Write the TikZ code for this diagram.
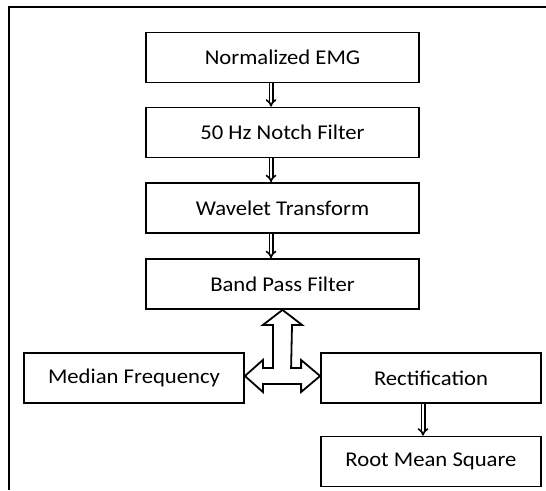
\documentclass[tikz,border=0pt]{standalone}
\usepackage{fontspec}
\setmainfont{Carlito}[FakeStretch=1.08]
\usetikzlibrary{arrows.meta,calc}
\begin{document}
\begin{tikzpicture}[x=1pt,y=-1pt,
  box/.style={draw=black, line width=1.8pt, minimum height=50pt, inner sep=0pt,
    font=\fontsize{21}{24}\selectfont},
  wide/.style={box, minimum width=273pt},
  narrow/.style={box, minimum width=220pt},
  dbl/.style={draw=black, double, double distance=1.8pt, line width=1.6pt, -{Implies}},
  blockarrow/.style={draw=black, line width=1.8pt, fill=white, line join=miter}]
\useasboundingbox (0,0) rectangle (546,490);
\draw[line width=1.8pt] (546,7) -- (9,7) -- (9,490);
\node[wide] (n1) at (282.5,57.5) {Normalized EMG};
\node[wide] (n2) at (282.5,132.5) {50 Hz Notch Filter};
\node[wide] (n3) at (282.5,208) {Wavelet Transform};
\node[wide] (n4) at (282.5,284) {Band Pass Filter};
\node[narrow] (med) at (134,378) {Median Frequency};
\node[narrow] (rect) at (431,378) {Rectification};
\node[narrow] (rms) at (431,461.5) {Root Mean Square};
\draw[dbl] ([xshift=-11.5pt]n1.south) -- ([xshift=-11.5pt]n2.north);
\draw[dbl] ([xshift=-11.5pt]n2.south) -- ([xshift=-11.5pt]n3.north);
\draw[dbl] ([xshift=-11.5pt]n3.south) -- ([xshift=-11.5pt]n4.north);
\draw[dbl] ([xshift=-8pt]rect.south) -- ([xshift=-8pt]rms.north);
% three-way block arrow
\coordinate (T) at (n4.south);
\coordinate (L) at ($(med.east)+(0,-2)$);
\coordinate (R) at ($(rect.west)+(0,-2)$);
\draw[blockarrow] (T)
  -- ($(T)+(19.5,15)$) -- ($(T)+(9.5,15)$)
  -- ($(R)+(-29,-8)$) -- ($(R)+(-19,-8)$) -- ($(R)+(-19,-16)$)
  -- (R)
  -- ($(R)+(-19,16)$) -- ($(R)+(-19,8)$)
  -- ($(L)+(18,8)$) -- ($(L)+(18,16)$)
  -- (L)
  -- ($(L)+(18,-16)$) -- ($(L)+(18,-8)$)
  -- ($(T)+(-9.5,58)$) -- ($(T)+(-9.5,15)$) -- ($(T)+(-19.5,15)$) -- cycle;
\end{tikzpicture}
\end{document}
